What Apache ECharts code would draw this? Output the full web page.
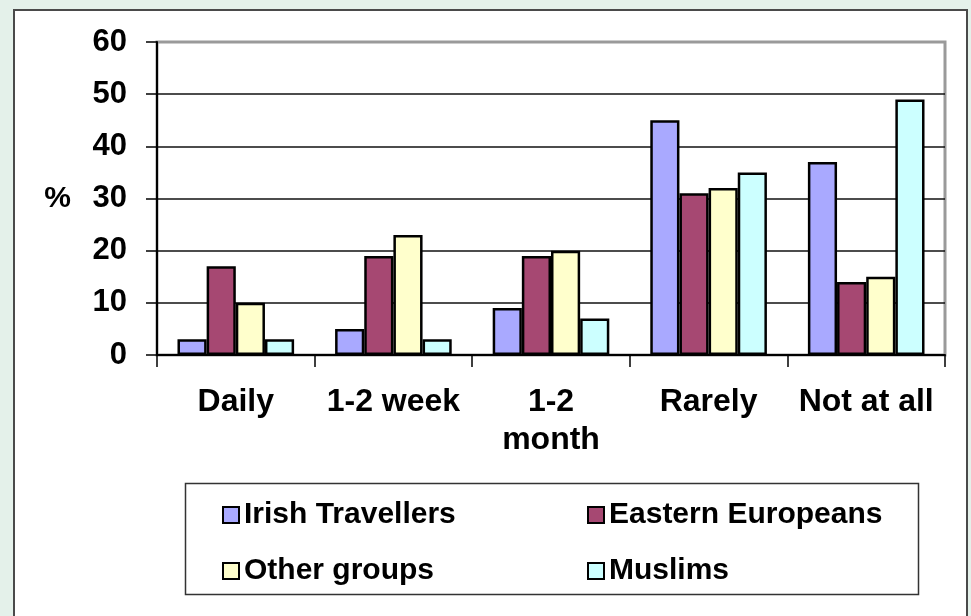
<!DOCTYPE html>
<html>
<head>
<meta charset="utf-8">
<script src="https://cdn.jsdelivr.net/npm/echarts@6/dist/echarts.min.js"></script>
<style>
  html, body { margin: 0; padding: 0; background: #e4f1ea; }
  #panel { position: absolute; left: 13px; top: 9px; width: 951px; height: 640px;
           background: #ffffff; border: 2px solid #4a4a4a; }
  #chart { position: absolute; left: 0; top: 0; width: 971px; height: 616px; }
</style>
</head>
<body>
<div id="panel"></div>
<div id="chart"></div>
<script>
// Frequency of contact, percentage of respondents per group
const categories = ['Daily', '1-2 week', '1-2\nmonth', 'Rarely', 'Not at all'];
const irishTravellers   = [3, 5, 9, 45, 37];
const easternEuropeans  = [17, 19, 19, 31, 14];
const otherGroups       = [10, 23, 20, 32, 15];
const muslims           = [3, 3, 7, 35, 49];
const seriesNames = ['Irish Travellers', 'Eastern Europeans', 'Other groups', 'Muslims'];
const yTicks = [0, 10, 20, 30, 40, 50, 60];

const FONT = "'Liberation Sans', Arial, sans-serif";
const colors = ['#a9a9ff', '#a64872', '#ffffcc', '#ccffff'];
const seriesData = [irishTravellers, easternEuropeans, otherGroups, muslims];

const chart = echarts.init(document.getElementById('chart'), null, { renderer: 'canvas' });

const legendText = { fontFamily: FONT, fontWeight: 'bold', fontSize: 30, color: '#000', lineHeight: 30 };
const legendPos = [
  { left: 222, top: 500 },
  { left: 587, top: 500 },
  { left: 222, top: 556 },
  { left: 587, top: 556 }
];

chart.setOption({
  animation: false,
  backgroundColor: 'transparent',
  grid: {
    left: 157, right: 26, top: 42, bottom: 261,
    show: true, borderColor: '#9a9a9a', borderWidth: 3, backgroundColor: 'transparent'
  },
  legend: seriesNames.map((name, i) => ({
    data: [name],
    left: legendPos[i].left,
    top: legendPos[i].top,
    icon: 'rect',
    itemWidth: 16,
    itemHeight: 16,
    padding: 0,
    selectedMode: false,
    textStyle: legendText
  })),
  xAxis: {
    type: 'category',
    data: categories,
    boundaryGap: true,
    axisLine: { lineStyle: { color: '#000', width: 2 } },
    axisTick: { show: true, length: 12, alignWithLabel: false, lineStyle: { color: '#000', width: 1.5 } },
    axisLabel: {
      interval: 0, margin: 28,
      fontFamily: FONT, fontWeight: 'bold', fontSize: 32, color: '#000', lineHeight: 38
    },
    splitLine: { show: false }
  },
  yAxis: {
    type: 'value',
    min: yTicks[0],
    max: yTicks[yTicks.length - 1],
    interval: 10,
    name: '%',
    nameLocation: 'middle',
    nameRotate: 0,
    nameGap: 86,
    nameTextStyle: { fontFamily: FONT, fontWeight: 'bold', fontSize: 30, color: '#000' },
    axisLine: { show: true, lineStyle: { color: '#000', width: 2 } },
    axisTick: { show: true, length: 11, lineStyle: { color: '#000', width: 1.5 } },
    axisLabel: {
      margin: 30, padding: [6, 0, 0, 0],
      fontFamily: FONT, fontWeight: 'bold', fontSize: 31, color: '#000'
    },
    splitLine: { show: true, showMaxLine: false, lineStyle: { color: '#111', width: 1.5 } }
  },
  series: seriesNames.map((name, i) => ({
    name: name,
    type: 'bar',
    data: seriesData[i],
    barGap: '0%',
    barCategoryGap: '26%',
    itemStyle: { color: colors[i], borderColor: '#000', borderWidth: 2.5 },
    emphasis: { disabled: true }
  })),
  graphic: [{
    type: 'rect',
    shape: { x: 185.5, y: 483.5, width: 733, height: 111 },
    style: { fill: 'none', stroke: '#333', lineWidth: 1.5 },
    silent: true
  }]
});
</script>
</body>
</html>
